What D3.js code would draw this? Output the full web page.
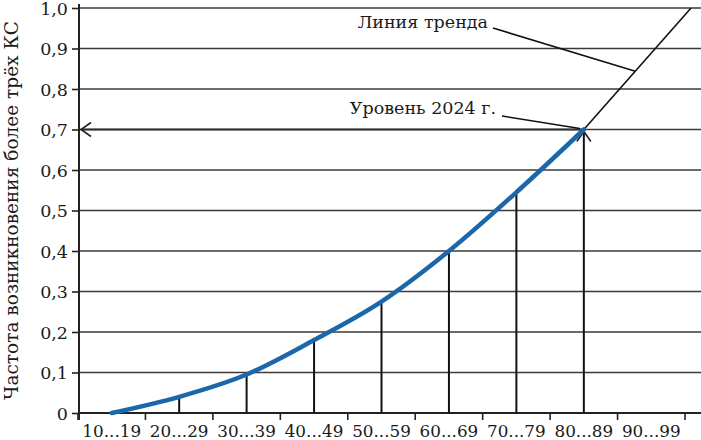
<!DOCTYPE html>
<html>
<head>
<meta charset="utf-8">
<script src="https://cdn.jsdelivr.net/npm/d3@7"></script>
<style>
  body { margin: 0; background: #fff; }
  text { font-family: "DejaVu Serif", "Liberation Serif", serif; fill: #1a1a1a; }
</style>
</head>
<body>
<div id="chart"></div>
<script>
// age groups on the x axis
const categories = ["10...19", "20...29", "30...39", "40...49", "50...59", "60...69", "70...79", "80...89", "90...99"];
// frequency (one per group, up to 80...89)
const frequency = [0, 0.04, 0.095, 0.18, 0.275, 0.4, 0.545, 0.7];
// groups that get a vertical drop line
const dropIndex = [1, 2, 3, 4, 5, 6, 7];
// trend line: [group index, value]
const trendIdx = [7, 8.59];
const trendVal = [0.7, 1.0];
const yTicks = [0, 0.1, 0.2, 0.3, 0.4, 0.5, 0.6, 0.7, 0.8, 0.9, 1.0];
const yTitle = "Частота возникновения более трёх КС";
const trendLabel = "Линия тренда";
const levelLabel = "Уровень 2024 г.";
const levelValue = 0.7;

const width = 701, height = 440;
const margin = { top: 8, right: 0, bottom: 27, left: 78 };
const plotRight = 685;

const svg = d3.select("#chart").append("svg")
    .attr("width", width)
    .attr("height", height);

const x = d3.scaleBand().domain(categories).range([margin.left, plotRight]);
// continuous index scale, centre of each band
const xi = d3.scaleLinear()
    .domain([0, categories.length - 1])
    .range([x(categories[0]) + x.bandwidth() / 2, x(categories[categories.length - 1]) + x.bandwidth() / 2]);
const y = d3.scaleLinear().domain([0, 1]).range([height - margin.bottom, margin.top]);

const ink = "#222";

// horizontal grid
svg.append("g")
    .selectAll("line")
    .data(yTicks.filter(d => d > 0))
    .join("line")
    .attr("x1", margin.left)
    .attr("x2", width)
    .attr("y1", d => y(d))
    .attr("y2", d => y(d))
    .attr("stroke", "#3a3a3a")
    .attr("stroke-width", 1.6);

// y axis
const yAxis = svg.append("g")
    .attr("transform", `translate(${margin.left + 1},0)`)
    .call(d3.axisLeft(y)
        .tickValues(yTicks)
        .tickSize(7)
        .tickPadding(4)
        .tickFormat(d => d === 0 ? "0" : d.toFixed(1).replace(".", ",")));
yAxis.select(".domain").remove();
yAxis.selectAll(".tick line").attr("stroke", ink).attr("stroke-width", 1.6);
yAxis.selectAll(".tick text").style("font-size", "17.5px").attr("fill", ink).attr("dy", "0.36em");
svg.append("line")
    .attr("x1", margin.left + 1).attr("x2", margin.left + 1)
    .attr("y1", 4).attr("y2", y(0) + 7)
    .attr("stroke", ink).attr("stroke-width", 2);

// x axis: ticks at band edges, labels at centres
const edges = categories.map(c => x(c)).concat([plotRight]);
const xAxis = svg.append("g").attr("transform", `translate(0,${y(0)})`);
xAxis.append("line")
    .attr("x1", margin.left).attr("x2", width)
    .attr("stroke", ink).attr("stroke-width", 1.8);
xAxis.selectAll(".edge")
    .data(edges)
    .join("line")
    .attr("class", "edge")
    .attr("x1", d => d).attr("x2", d => d)
    .attr("y1", 0).attr("y2", 7)
    .attr("stroke", ink).attr("stroke-width", 1.6);
xAxis.selectAll(".lab")
    .data(categories)
    .join("text")
    .attr("class", "lab")
    .attr("x", d => x(d) + x.bandwidth() / 2)
    .attr("y", 24)
    .attr("text-anchor", "middle")
    .style("font-size", "16.8px")
    .text(d => d);

// drop lines
svg.append("g")
    .selectAll("line")
    .data(dropIndex)
    .join("line")
    .attr("x1", d => xi(d)).attr("x2", d => xi(d))
    .attr("y1", d => y(frequency[d])).attr("y2", y(0))
    .attr("stroke", "#111").attr("stroke-width", 2);

// trend line
svg.append("line")
    .attr("x1", xi(trendIdx[0])).attr("y1", y(trendVal[0]))
    .attr("x2", xi(trendIdx[1])).attr("y2", y(trendVal[1]))
    .attr("stroke", "#111").attr("stroke-width", 1.6);

// level arrows (2024)
const lx = xi(7), ly = y(levelValue);
svg.append("line")
    .attr("x1", lx).attr("y1", ly).attr("x2", margin.left + 3).attr("y2", ly)
    .attr("stroke", "#333").attr("stroke-width", 2);
svg.append("path")
    .attr("d", `M${margin.left + 13},${ly - 7}L${margin.left + 3},${ly}L${margin.left + 13},${ly + 7}`)
    .attr("fill", "none").attr("stroke", "#222").attr("stroke-width", 1.6);
svg.append("path")
    .attr("d", `M${lx - 7},${ly + 12}L${lx},${ly + 2}L${lx + 7},${ly + 12}`)
    .attr("fill", "none").attr("stroke", "#222").attr("stroke-width", 1.6);

// blue curve
const line = d3.line()
    .x((d, i) => xi(i))
    .y(d => y(d))
    .curve(d3.curveMonotoneX);
svg.append("path")
    .datum(frequency)
    .attr("d", line)
    .attr("fill", "none")
    .attr("stroke", "#1b67aa")
    .attr("stroke-width", 4.5)
    .attr("stroke-linecap", "round");

// annotations
const trendPt = [xi(7) + (xi(trendIdx[1]) - xi(7)) * 0.48, y(0.7 + 0.3 * 0.48)];
svg.append("text")
    .attr("x", 488).attr("y", 28)
    .attr("text-anchor", "end")
    .style("font-size", "17.5px")
    .text(trendLabel);
svg.append("line")
    .attr("x1", 493).attr("y1", 28)
    .attr("x2", trendPt[0]).attr("y2", trendPt[1])
    .attr("stroke", "#111").attr("stroke-width", 1.6);

svg.append("text")
    .attr("x", 496).attr("y", 114)
    .attr("text-anchor", "end")
    .style("font-size", "17.5px")
    .text(levelLabel);
svg.append("line")
    .attr("x1", 502).attr("y1", 116)
    .attr("x2", lx - 4).attr("y2", ly - 1)
    .attr("stroke", "#111").attr("stroke-width", 1.6);

// y title
svg.append("text")
    .attr("transform", `translate(18,${(y(0) + y(1)) / 2}) rotate(-90)`)
    .attr("text-anchor", "middle")
    .style("font-size", "18.5px")
    .text(yTitle);
</script>
</body>
</html>
